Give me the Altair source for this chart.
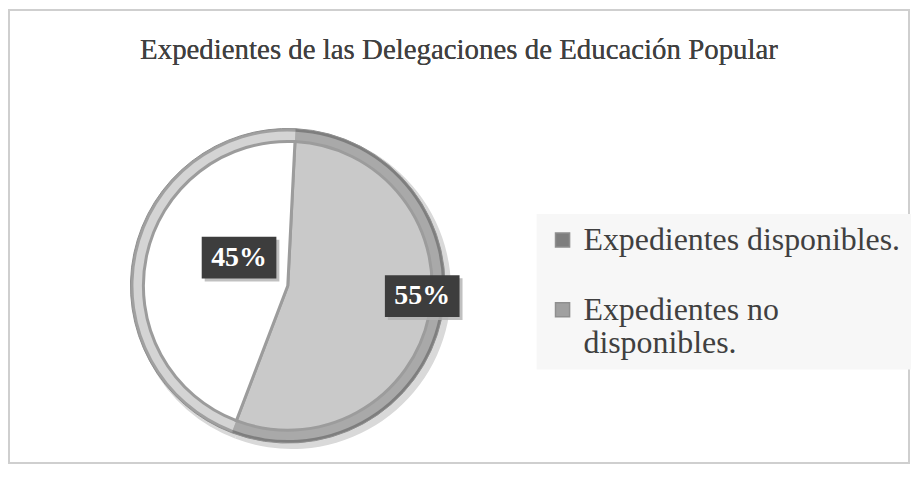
import math
import altair as alt
import pandas as pd

categories = ["Expedientes disponibles.", "Expedientes no disponibles."]
values = [55, 45]
title_text = "Expedientes de las Delegaciones de Educación Popular"

df = pd.DataFrame({"cat": categories, "value": values})

A0 = 0.05
CX, CY = 280, 277
R = 158
SERIF = "Liberation Serif"

theta = alt.Theta("value:Q", stack=True,
                  scale=alt.Scale(range=[A0, A0 + 2 * math.pi]))
base = alt.Chart(df)

shadow = base.mark_arc(outerRadius=R + 2, color="#d9d9d9").encode(
    theta=theta, x=alt.value(CX + 4), y=alt.value(CY + 4))

rim = base.mark_arc(outerRadius=R, stroke="#8f8f8f", strokeWidth=1).encode(
    theta=theta,
    color=alt.Color("cat:N", sort=categories,
                    scale=alt.Scale(domain=categories, range=["#7e7e7e", "#a0a0a0"]),
                    legend=alt.Legend(
                        orient="none", legendX=530, legendY=205, title=None,
                        labelFont=SERIF, labelFontSize=32,
                        labelColor="#404040", symbolType="square", symbolSize=200,
                        fillColor="#f7f7f7", padding=10, rowPadding=38,
                        labelLimit=500, labelOffset=5,
                        labelExpr="datum.label == 'Expedientes no disponibles.' ? ['Expedientes no', 'disponibles.'] : datum.label")),
    x=alt.value(CX), y=alt.value(CY))

rim2 = base.mark_arc(outerRadius=R - 3).encode(
    theta=theta,
    fill=alt.Fill("cat:N", sort=categories,
                  scale=alt.Scale(domain=categories, range=["#a9a9a9", "#d4d4d4"]),
                  legend=None),
    x=alt.value(CX), y=alt.value(CY))

inner = base.mark_arc(outerRadius=R - 13, stroke="#9c9c9c", strokeWidth=3).encode(
    theta=theta,
    fill=alt.Fill("cat:N", sort=categories,
                  scale=alt.Scale(domain=categories, range=["#c9c9c9", "#ffffff"]),
                  legend=None),
    x=alt.value(CX), y=alt.value(CY))

lab_base = base.transform_window(
    cum="sum(value)", frame=[None, 0], sort=[alt.SortField("cat")]
).transform_joinaggregate(total="sum(value)").transform_calculate(
    ang=f"(datum.cum - datum.value / 2) / datum.total * 2 * PI + {A0}",
    lr="datum.value > 50 ? 138 : 50",
    lab="format(datum.value, 'd') + '%'",
).transform_calculate(
    px=f"{CX} + datum.lr * sin(datum.ang)",
    py=f"{CY} - datum.lr * cos(datum.ang) - 18",
).transform_calculate(
    sx="datum.px + 3", sy="datum.py + 3",
)

box_path = "M-1,-0.56L1,-0.56L1,0.56L-1,0.56Z"
box_shadow = lab_base.mark_point(shape=box_path, size=5625, filled=True,
                                 color="#b0b0b0", opacity=0.8).encode(
    x=alt.X("sx:Q", scale=None, axis=None), y=alt.Y("sy:Q", scale=None, axis=None))
box = lab_base.mark_point(shape=box_path, size=5625, filled=True,
                          color="#3d3d3d", opacity=1).encode(
    x=alt.X("px:Q", scale=None, axis=None), y=alt.Y("py:Q", scale=None, axis=None))
text = lab_base.mark_text(font=SERIF, fontWeight="bold", fontSize=28,
                          color="white").encode(
    x=alt.X("px:Q", scale=None, axis=None), y=alt.Y("py:Q", scale=None, axis=None),
    text="lab:N")

title = base.mark_text(font=SERIF, fontSize=29, color="#404040").encode(
    x=alt.value(452), y=alt.value(40), text=alt.value(title_text))

chart = alt.layer(shadow, rim, rim2, inner, box_shadow, box, text, title).resolve_scale(
    x="independent", y="independent", fill="independent"
).properties(
    width=904, height=455, padding={"left": 1, "top": 1, "right": 1, "bottom": 1},
    background="white"
).configure_view(stroke="#cfcfcf", strokeWidth=2)

chart.save("out.html", embed_options={"renderer": "svg", "actions": False})
